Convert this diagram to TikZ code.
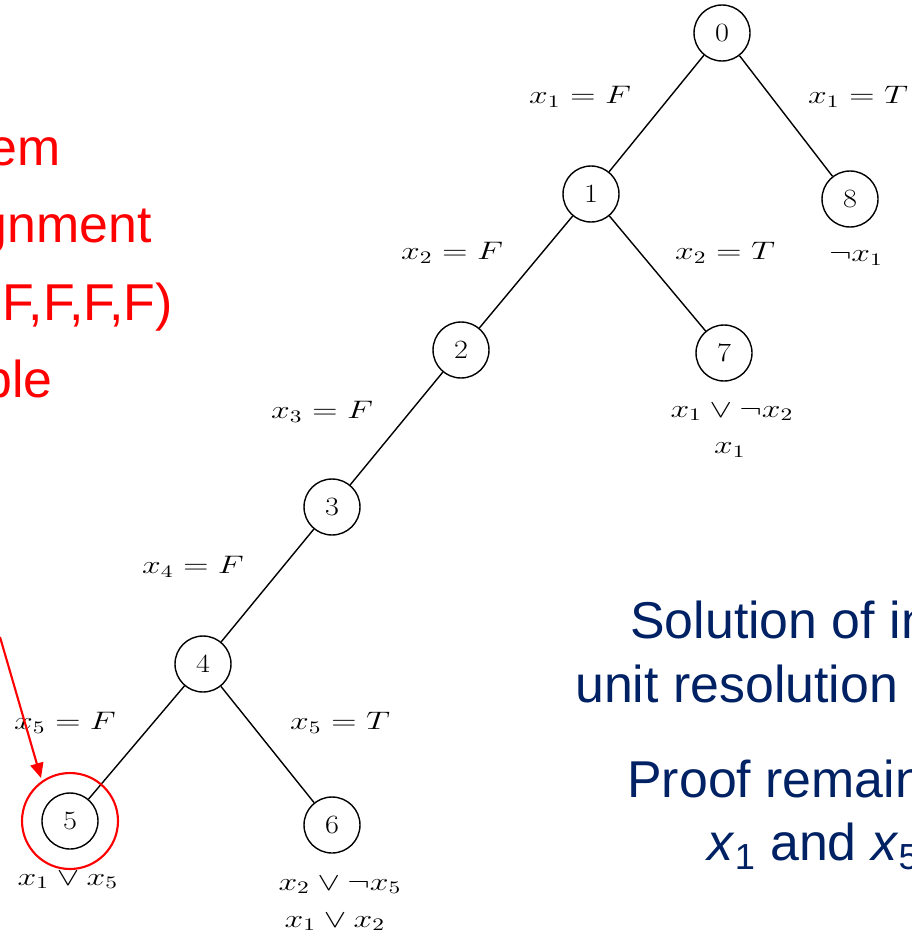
\documentclass[tikz,border=0pt]{standalone}
\usepackage{fontspec}
\setsansfont{Liberation Sans}
\usepackage{graphicx}
\usetikzlibrary{arrows.meta}
\definecolor{slide-red}{RGB}{255,0,0}
\definecolor{slide-navy}{RGB}{0,33,99}
\newcommand{\wlab}[1]{\scalebox{1.33}[1]{$#1$}}
\newcommand{\wnum}[1]{\scalebox{1.15}[1]{#1}}

\begin{document}
\begin{tikzpicture}[x=0.02cm, y=-0.02cm,
  state/.style={draw, circle, line width=0.8pt, minimum size=1.12cm, inner sep=0pt, font=\fontsize{15}{18}\selectfont},
  lab/.style={font=\fontsize{14}{16}\selectfont, inner sep=0pt},
  note/.style={font=\sffamily\fontsize{29.5}{35}\selectfont, inner sep=0pt},
  branch/.style={line width=0.8pt},
]
  \path[use as bounding box, clip] (0,0) rectangle (912,936);

  % Search tree
  \node[state] (n0) at (722,33) {\wnum{0}};
  \node[state] (n1) at (591,194) {\wnum{1}};
  \node[state] (n8) at (850,199) {\wnum{8}};
  \node[state] (n2) at (461,350) {\wnum{2}};
  \node[state] (n7) at (724,353) {\wnum{7}};
  \node[state] (n3) at (332,507) {\wnum{3}};
  \node[state] (n4) at (203,664) {\wnum{4}};
  \node[state] (n5) at (70,821) {\wnum{5}};
  \node[state] (n6) at (332,825) {\wnum{6}};

  \draw[branch] (n0) -- (n1);
  \draw[branch] (n0) -- (n8);
  \draw[branch] (n1) -- (n2);
  \draw[branch] (n1) -- (n7);
  \draw[branch] (n2) -- (n3);
  \draw[branch] (n3) -- (n4);
  \draw[branch] (n4) -- (n5);
  \draw[branch] (n4) -- (n6);

  % Branch labels
  \node[lab] (l01) at (580,97) {\wlab{x_1 = F}};
  \node[lab] (l08) at (858,97) {\wlab{x_1 = T}};
  \node[lab] (l12) at (452,253) {\wlab{x_2 = F}};
  \node[lab] (l17) at (725,253) {\wlab{x_2 = T}};
  \node[lab] (l23) at (322,412) {\wlab{x_3 = F}};
  \node[lab] (l34) at (193,567) {\wlab{x_4 = F}};
  \node[lab] (l45) at (65,723) {\wlab{x_5 = F}};
  \node[lab] (l46) at (340,723) {\wlab{x_5 = T}};

  % Clauses at the leaves
  \node[lab] (c8) at (856,258) {\wlab{\neg x_1}};
  \node[lab] (c7a) at (732,412) {\wlab{x_1 \vee \neg x_2}};
  \node[lab] (c7b) at (730,450) {\wlab{x_1}};
  \node[lab] (c5) at (68,880) {\wlab{x_1 \vee x_5}};
  \node[lab] (c6a) at (340,885) {\wlab{x_2 \vee \neg x_5}};
  \node[lab] (c6b) at (335,922) {\wlab{x_1 \vee x_2}};

  % Highlight
  \node[draw=slide-red, circle, line width=1.2pt, minimum size=1.92cm] (hit) at (n5) {};
  \coordinate (from) at (0,637);
  \coordinate (tip) at (41,778);
  \draw[slide-red, line width=1.2pt, -{Triangle[length=8.5pt, width=7.5pt]}] (from) -- (tip);

  % Slide text, left
  \node[note, text=slide-red, anchor=base east] (t1) at (61,165) {em};
  \node[note, text=slide-red, anchor=base east] (t2) at (152,242) {gnment};
  \node[note, text=slide-red, anchor=base east] (t3) at (173,320) {F,F,F,F)};
  \node[note, text=slide-red, anchor=base east] (t4) at (53,397) {ble};

  % Slide text, right
  \node[note, text=slide-navy, anchor=base west] (s1) at (630,638) {Solution of in};
  \node[note, text=slide-navy, anchor=base west] (s2) at (575,702) {unit resolution};
  \node[note, text=slide-navy, anchor=base west] (s3) at (627,797) {Proof remain};
  \node[note, text=slide-navy, anchor=base west] (s4) at (707,860) {\textit{x}\textsubscript{1} and \textit{x}\textsubscript{5}};
\end{tikzpicture}
\end{document}
